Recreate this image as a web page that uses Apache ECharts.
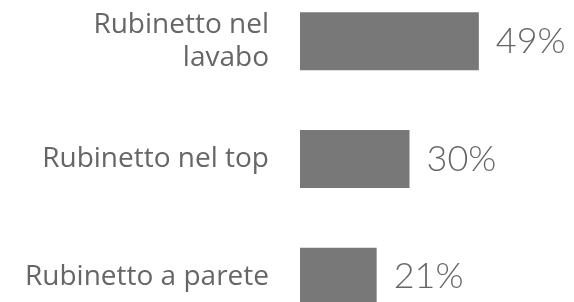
<!DOCTYPE html>
<html>
<head>
<meta charset="utf-8">
<script src="https://cdn.jsdelivr.net/npm/echarts@6/dist/echarts.min.js"></script>
<style>
  html, body { margin: 0; padding: 0; background: #fff; }
  #main { width: 574px; height: 302px; }
</style>
</head>
<body>
<div id="main"></div>
<script>
const categories = ["Rubinetto nel\nlavabo", "Rubinetto nel top", "Rubinetto a parete"];
const shares = [49, 30, 21];

let option = {
  animation: false,
  grid: {
    left: 300,
    top: -17.5,
    width: 219,
    height: 353,
    containLabel: false,
    outerBoundsMode: "none",
  },
  xAxis: {
    type: "value",
    min: 0,
    max: 60,
    show: false,
  },
  yAxis: {
    type: "category",
    inverse: true,
    data: categories,
    axisLine: { show: false },
    axisTick: { show: false },
    splitLine: { show: false },
    axisLabel: {
      margin: 31,
      color: "#666666",
      fontFamily: "Open Sans",
      fontSize: 28,
      lineHeight: 33,
      align: "right",
    },
  },
  series: [
    {
      type: "bar",
      data: shares,
      barWidth: 58,
      itemStyle: { color: "#787878" },
      label: {
        show: true,
        position: "right",
        distance: 17,
        formatter: "{c}%",
        color: "#666666",
        fontFamily: "Lato",
        fontWeight: 300,
        fontSize: 36,
      },
    },
  ],
};

let chartDom = document.getElementById("main");
let myChart = echarts.init(chartDom);
option && myChart.setOption(option);
</script>
</body>
</html>
